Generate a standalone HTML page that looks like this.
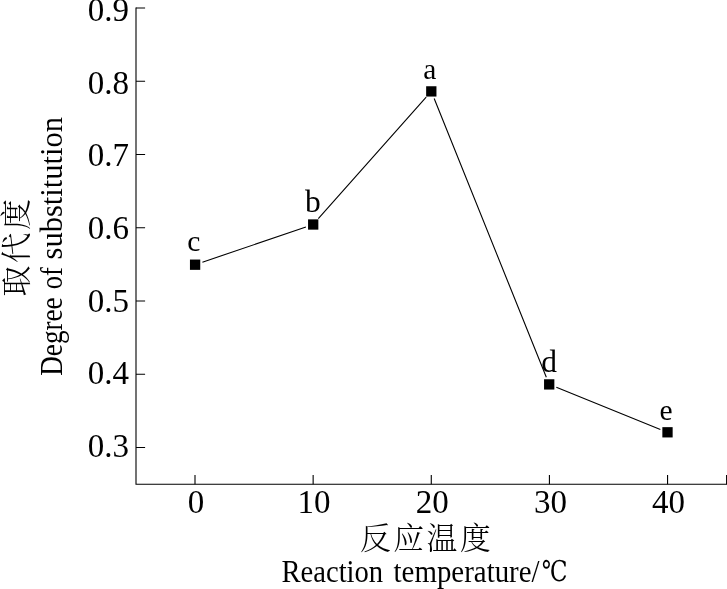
<!DOCTYPE html>
<html lang="zh">
<head>
<meta charset="utf-8">
<title>Reaction temperature chart</title>
<style>
html,body{margin:0;padding:0;background:#fff;}
body{width:727px;height:589px;overflow:hidden;position:relative;}
svg{position:absolute;left:0;top:0;display:block;}
text{font-family:"Liberation Serif","Noto Serif CJK SC",serif;fill:#000;}
.tk{font-size:33px;}
.en{font-size:32.5px;}
.dg{font-family:"DejaVu Serif","Noto Serif CJK SC",serif;font-size:28.5px;}
.cn{font-family:"Noto Serif CJK SC","Liberation Serif",serif;font-size:30.8px;font-weight:300;}
.ax{stroke:#000;stroke-width:1.1;fill:none;}
.ln{stroke:#000;stroke-width:1.1;fill:none;}
</style>
</head>
<body>
<svg width="727" height="589" viewBox="0 0 727 589">

<path class="ax" d="M136 7.45V484.3H727"/>
<path class="ax" d="M136 447.50H145.1M136 374.25H145.1M136 301.00H145.1M136 227.75H145.1M136 154.50H145.1M136 81.25H145.1M136 8.00H145.1"/>
<path class="ax" d="M195.00 484.3V475.05M313.14 484.3V475.05M431.28 484.3V475.05M549.42 484.3V475.05M667.56 484.3V475.05M726.6 484.3V475.05"/>
<text class="tk" x="129" y="456.7" text-anchor="end">0.3</text>
<text class="tk" x="129" y="384.1" text-anchor="end">0.4</text>
<text class="tk" x="129" y="311.5" text-anchor="end">0.5</text>
<text class="tk" x="129" y="238.9" text-anchor="end">0.6</text>
<text class="tk" x="129" y="166.3" text-anchor="end">0.7</text>
<text class="tk" x="129" y="93.7" text-anchor="end">0.8</text>
<text class="tk" x="129" y="21.1" text-anchor="end">0.9</text>
<text class="tk" x="196.0" y="512.8" text-anchor="middle">0</text>
<text class="tk" x="314.1" y="512.8" text-anchor="middle">10</text>
<text class="tk" x="432.3" y="512.8" text-anchor="middle">20</text>
<text class="tk" x="550.4" y="512.8" text-anchor="middle">30</text>
<text class="tk" x="668.6" y="512.8" text-anchor="middle">40</text>
<path class="ln" d="M202.39 262.22L305.91 226.98M318.31 218.74L426.19 97.16M434.17 98.54L546.33 377.26M556.34 387.29L660.36 429.41"/>
<rect x="189.95" y="259.55" width="10.3" height="10.3" fill="#000"/>
<rect x="308.05" y="219.35" width="10.3" height="10.3" fill="#000"/>
<rect x="426.15" y="86.25" width="10.3" height="10.3" fill="#000"/>
<rect x="544.05" y="379.25" width="10.3" height="10.3" fill="#000"/>
<rect x="662.35" y="427.15" width="10.3" height="10.3" fill="#000"/>
<text class="lb" x="193.8" y="251.4" text-anchor="middle" font-size="29.5">c</text>
<text class="lb" x="312.8" y="211.8" text-anchor="middle" font-size="31.5">b</text>
<text class="lb" x="429.8" y="78.9" text-anchor="middle" font-size="29.5">a</text>
<text class="lb" x="549.0" y="371.8" text-anchor="middle" font-size="31.5">d</text>
<text class="lb" x="666.0" y="419.7" text-anchor="middle" font-size="29.5">e</text>
<text class="cn" x="359.9" y="549.3" letter-spacing="2.55">反应温度</text>
<text class="en" y="581.7"><tspan x="281.5" textLength="101.6" lengthAdjust="spacingAndGlyphs">Reaction</tspan> <tspan x="393.6" textLength="146" lengthAdjust="spacingAndGlyphs">temperature/</tspan><tspan class="dg" x="541.8" y="580.8" textLength="25.83" lengthAdjust="spacingAndGlyphs">℃</tspan></text>
<text class="cn" transform="translate(27.1,296.5) rotate(-90)" letter-spacing="2.55">取代度</text>
<text class="en" transform="translate(62.2,375.8) rotate(-90)" y="0"><tspan x="0" textLength="78.5" lengthAdjust="spacingAndGlyphs">Degree</tspan> <tspan x="86.6" textLength="22" lengthAdjust="spacingAndGlyphs">of</tspan> <tspan x="116.3" textLength="142.5" lengthAdjust="spacingAndGlyphs">substitution</tspan></text>
</svg>
</body>
</html>
